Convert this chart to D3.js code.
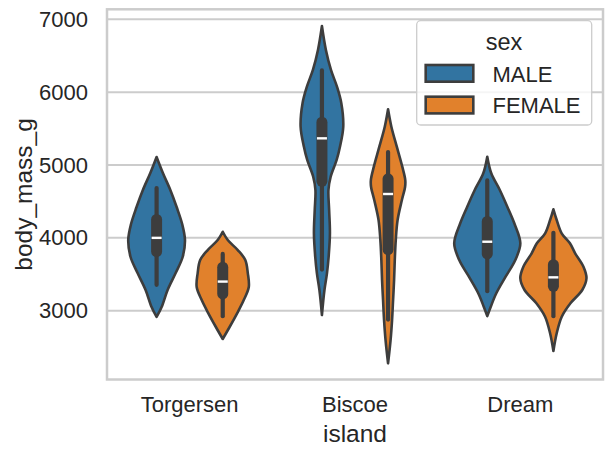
<!DOCTYPE html>
<html>
<head>
<meta charset="utf-8">
<script src="https://cdn.jsdelivr.net/npm/d3@7"></script>
<style>
  html, body { margin: 0; padding: 0; background: #ffffff; }
  svg { display: block; }
  text { font-family: "Liberation Sans", Arial, sans-serif; fill: #262626; }
</style>
</head>
<body>
<svg id="chart" width="612" height="455"></svg>
<script>
// ---- data ----
const islands = ["Torgersen", "Biscoe", "Dream"];
const sexes = ["MALE", "FEMALE"];
const sexColors = ["#3274a1", "#e1812c"];
const yTicks = [3000, 4000, 5000, 6000, 7000];
const yDomain = [2056, 7137];

// violin outlines: [body_mass_g, relative half-width]
const torgersenMale = [[5110,0],[4890,0.19],[4657,0.415],[4423,0.606],[4190,0.773],[3970,0.858],[3737,0.788],[3517,0.576],[3284,0.333],[3051,0.152],[2914,0]];
const torgersenFemale = [[4084,0],[3970,0.152],[3833,0.455],[3696,0.682],[3517,0.758],[3325,0.788],[3147,0.636],[2968,0.439],[2780,0.212],[2612,0]];
const biscoeMale = [[6908,0],[6579,0.12],[6305,0.273],[6075,0.455],[5851,0.585],[5526,0.645],[5251,0.545],[5069,0.445],[4839,0.264],[4657,0.197],[4382,0.218],[4062,0.242],[3741,0.203],[3513,0.152],[3284,0.076],[2941,0]];
const biscoeFemale = [[5765,0],[5526,0.1],[5251,0.264],[4977,0.43],[4794,0.52],[4702,0.515],[4520,0.418],[4245,0.288],[3970,0.233],[3696,0.203],[3421,0.182],[3147,0.152],[2872,0.121],[2597,0.076],[2278,0]];
const dreamMale = [[5114,0],[4886,0.121],[4657,0.379],[4428,0.606],[4200,0.818],[3925,1.0],[3696,0.848],[3467,0.555],[3239,0.273],[3055,0.106],[2927,0]];
const dreamFemale = [[4392,0],[4245,0.1],[4062,0.25],[3925,0.5],[3788,0.658],[3604,0.909],[3445,1.0],[3284,0.873],[3102,0.515],[2918,0.252],[2690,0.1],[2447,0]];

// inner box statistics, order: Torgersen M, Torgersen F, Biscoe M, Biscoe F, Dream M, Dream F
const whiskerLow  = [3355, 2925, 3565, 2878, 3268, 2925];
const q1          = [3812, 3231, 4777, 3840, 3781, 3336];
const median      = [4000, 3400, 5366, 4602, 3947, 3458];
const q3          = [4252, 3598, 5588, 4811, 4225, 3631];
const whiskerHigh = [4683, 3780, 6298, 5177, 4788, 4070];

const profiles = [torgersenMale, torgersenFemale, biscoeMale, biscoeFemale, dreamMale, dreamFemale];

(function () {
// ---- layout ----
const svg = d3.select("#chart");
const pLeft = 107, pRight = 603, pTop = 9.3, pBottom = 379.5;
const outline = "#3d3d3d";
const gridColor = "#cccccc";

const x = d3.scaleBand().domain(islands).range([pLeft, pRight]).padding(0);
const bw = x.bandwidth();
const hue = d3.scaleBand().domain(sexes).range([0.1 * bw, 0.9 * bw]);
const y = d3.scaleLinear().domain(yDomain).range([pBottom, pTop]);
const w = d3.scaleLinear().domain([0, 1]).range([0, hue.bandwidth() / 2]);

// grid
svg.append("g").selectAll("line").data(yTicks).join("line")
  .attr("x1", pLeft).attr("x2", pRight)
  .attr("y1", d => y(d)).attr("y2", d => y(d))
  .attr("stroke", gridColor).attr("stroke-width", 2);

// violins
const violins = [];
islands.forEach((isl, i) => sexes.forEach((sx, j) => {
  const k = i * 2 + j;
  violins.push({
    island: isl, sex: sx, color: sexColors[j], profile: profiles[k],
    cx: x(isl) + hue(sx) + hue.bandwidth() / 2,
    lo: whiskerLow[k], q1: q1[k], med: median[k], q3: q3[k], hi: whiskerHigh[k]
  });
}));

const g = svg.append("g");
violins.forEach(v => {
  const area = d3.area()
    .curve(d3.curveCatmullRom.alpha(0.5))
    .y(d => y(d[0]))
    .x0(d => v.cx - w(d[1]))
    .x1(d => v.cx + w(d[1]));
  g.append("path")
    .attr("d", area(v.profile))
    .attr("fill", v.color)
    .attr("stroke", outline)
    .attr("stroke-width", 2.6)
    .attr("stroke-linejoin", "round");
  // whisker
  g.append("line")
    .attr("x1", v.cx).attr("x2", v.cx)
    .attr("y1", y(v.lo)).attr("y2", y(v.hi))
    .attr("stroke", outline).attr("stroke-width", 4.2).attr("stroke-linecap", "round");
  // box
  g.append("line")
    .attr("x1", v.cx).attr("x2", v.cx)
    .attr("y1", y(v.q1)).attr("y2", y(v.q3))
    .attr("stroke", outline).attr("stroke-width", 11).attr("stroke-linecap", "round");
  // median
  g.append("line")
    .attr("x1", v.cx - 5).attr("x2", v.cx + 5)
    .attr("y1", y(v.med)).attr("y2", y(v.med))
    .attr("stroke", "#ffffff").attr("stroke-width", 2.4);
});

// frame (spines)
svg.append("rect")
  .attr("x", pLeft).attr("y", pTop)
  .attr("width", pRight - pLeft).attr("height", pBottom - pTop)
  .attr("fill", "none").attr("stroke", gridColor).attr("stroke-width", 2.5);

// axes
const yAxis = svg.append("g")
  .attr("transform", `translate(${pLeft},0)`)
  .call(d3.axisLeft(y).tickValues(yTicks).tickSize(0).tickPadding(19).tickFormat(d3.format("d")));
yAxis.select(".domain").remove();
yAxis.selectAll("text").style("font-size", "22px").attr("fill", "#262626")
  .style("font-family", '"Liberation Sans", Arial, sans-serif');

const xAxis = svg.append("g")
  .attr("transform", `translate(0,${pBottom})`)
  .call(d3.axisBottom(x).tickSize(0).tickPadding(17));
xAxis.select(".domain").remove();
xAxis.selectAll("text").style("font-size", "22px").attr("fill", "#262626")
  .style("font-family", '"Liberation Sans", Arial, sans-serif');

// axis labels
svg.append("text")
  .attr("x", (pLeft + pRight) / 2).attr("y", 441.5)
  .attr("text-anchor", "middle").style("font-size", "24.5px")
  .text("island");
svg.append("text")
  .attr("transform", `translate(31.5,${(pTop + pBottom) / 2}) rotate(-90)`)
  .attr("text-anchor", "middle").style("font-size", "24.5px")
  .text("body_mass_g");

// legend
const lg = svg.append("g");
lg.append("rect")
  .attr("x", 416.7).attr("y", 20.7).attr("width", 175).attr("height", 104.3)
  .attr("rx", 4).attr("ry", 4)
  .attr("fill", "#ffffff").attr("fill-opacity", 0.8)
  .attr("stroke", "#cccccc").attr("stroke-width", 1.3);
lg.append("text")
  .attr("x", 504).attr("y", 50)
  .attr("text-anchor", "middle").style("font-size", "23.5px")
  .text("sex");
sexes.forEach((s, i) => {
  const yy = 65 + i * 31.7;
  lg.append("rect")
    .attr("x", 425.7).attr("y", yy).attr("width", 47.6).attr("height", 16.7)
    .attr("fill", sexColors[i]).attr("stroke", outline).attr("stroke-width", 2.6);
  lg.append("text")
    .attr("x", 492.5).attr("y", yy + 16.5)
    .style("font-size", "22px")
    .text(s);
});
})();
</script>
</body>
</html>
